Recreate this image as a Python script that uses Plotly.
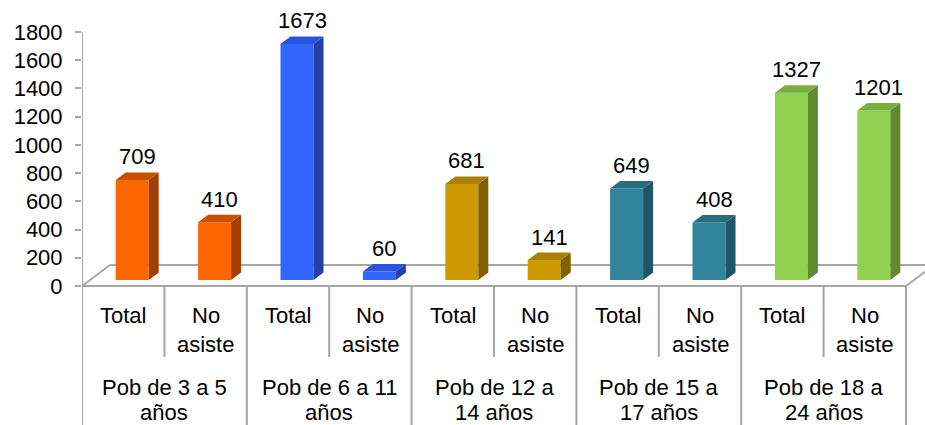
import plotly.graph_objects as go

# ---- data ----
group_lines = [
    ("Pob de 3 a 5", "años"),
    ("Pob de 6 a 11", "años"),
    ("Pob de 12 a", "14 años"),
    ("Pob de 15 a", "17 años"),
    ("Pob de 18 a", "24 años"),
]
subcats = ["Total", "No asiste"]
total = [709, 1673, 681, 649, 1327]
no_asiste = [410, 60, 141, 408, 1201]
y_ticks = list(range(0, 1801, 200))

# face colours per age group: front, right side, top
front_colors = ["#FF6600", "#3366FF", "#CC9900", "#31849B", "#92D050"]
side_colors = ["#A33F00", "#2240A6", "#806000", "#1F5566", "#5E8A32"]
top_colors = ["#C85000", "#2A52DE", "#A88008", "#286C80", "#78AE42"]

# ---- geometry (pixels -> data units) ----
W, H = 925, 425
L = 82
CAT_PX = 82.4
Y0_PX, YTOP_PX = 286, 32
PX_PER_UNIT = (Y0_PX - YTOP_PX) / 1800


def ux(px):
    return px / CAT_PX


def uy(px):
    return px / PX_PER_UNIT


def y_at(px_row):
    return (Y0_PX - px_row) / PX_PER_UNIT


x_range = [0, (W - L) / CAT_PX]
y_range = [y_at(H), y_at(0)]

n_cat = 2 * len(total)
values = [v for pair in zip(total, no_asiste) for v in pair]

GRID = "#A6A6A6"
FONT = "Liberation Sans, Arial, sans-serif"
FS = 22

fig = go.Figure()

half = ux(16.5)
shift = ux(9)
lift = uy(6)
dx, dy = ux(10), uy(7.5)

annotations = []
for i, v in enumerate(values):
    g = i // 2
    xc = i + 0.5 + shift
    top = lift + v
    # front face
    fig.add_trace(go.Bar(
        x=[xc], y=[v], base=[lift], width=[2 * half],
        marker=dict(color=front_colors[g], line=dict(width=0)),
        showlegend=False, hoverinfo="skip",
    ))
    # right side face
    fig.add_trace(go.Scatter(
        x=[xc + half, xc + half + dx, xc + half + dx, xc + half, xc + half],
        y=[lift, lift + dy, top + dy, top, lift],
        fill="toself", fillcolor=side_colors[g], mode="lines",
        line=dict(width=0, color=side_colors[g]),
        showlegend=False, hoverinfo="skip",
    ))
    # top face
    fig.add_trace(go.Scatter(
        x=[xc - half, xc + half, xc + half + dx, xc - half + dx, xc - half],
        y=[top, top, top + dy, top + dy, top],
        fill="toself", fillcolor=top_colors[g], mode="lines",
        line=dict(width=0, color=top_colors[g]),
        showlegend=False, hoverinfo="skip",
    ))
    annotations.append(dict(
        x=xc + dx / 2, y=top + dy, xref="x", yref="y", text=str(v),
        showarrow=False, yanchor="bottom", yshift=1,
        font=dict(size=FS, color="black", family=FONT),
    ))

# category labels
for i in range(n_cat):
    sub = subcats[i % 2]
    words = sub.split(" ")
    lines = [sub] if len(words) == 1 else words
    for j, t in enumerate(lines):
        annotations.append(dict(
            x=i + 0.5, y=y_at(315 + 29 * j), xref="x", yref="y", text=t,
            showarrow=False, xanchor="center", yanchor="middle",
            font=dict(size=FS, color="black", family=FONT),
        ))
for g, (l1, l2) in enumerate(group_lines):
    for j, t in enumerate((l1, l2)):
        annotations.append(dict(
            x=2 * g + 1, y=y_at(387 + 25 * j), xref="x", yref="y", text=t,
            showarrow=False, xanchor="center", yanchor="middle",
            font=dict(size=FS, color="black", family=FONT),
        ))

# floor, axis line and category separators
fx, fy = ux(28), uy(21)
shapes = []


def seg(x0, y0, x1, y1):
    shapes.append(dict(type="line", x0=x0, y0=y0, x1=x1, y1=y1,
                       xref="x", yref="y", layer="below",
                       line=dict(color=GRID, width=2)))


seg(0, y_at(H), 0, 1800)               # value axis
seg(0, 0, n_cat, 0)                    # floor front edge
seg(0, 0, fx, fy)                      # floor left edge
seg(n_cat, 0, n_cat + fx, fy)          # floor right edge
seg(fx, fy, x_range[1] + 1, fy)        # floor back edge
for i in range(1, n_cat + 1):
    if i % 2:
        seg(i, 0, i, y_at(357))
    else:
        seg(i, 0, i, y_at(H))

fig.update_layout(
    width=W, height=H,
    margin=dict(l=L, r=0, t=0, b=0),
    paper_bgcolor="white", plot_bgcolor="white",
    barmode="overlay",
    showlegend=False,
    shapes=shapes,
    annotations=annotations,
    xaxis=dict(range=x_range, visible=False, fixedrange=True),
    yaxis=dict(
        range=y_range, tickvals=y_ticks, ticks="outside", ticklen=6,
        tickwidth=2, tickcolor=GRID, showgrid=False, zeroline=False,
        showline=False, ticklabelstandoff=8,
        tickfont=dict(size=FS, color="black", family=FONT),
        fixedrange=True,
    ),
)

fig.write_html("out.html")
